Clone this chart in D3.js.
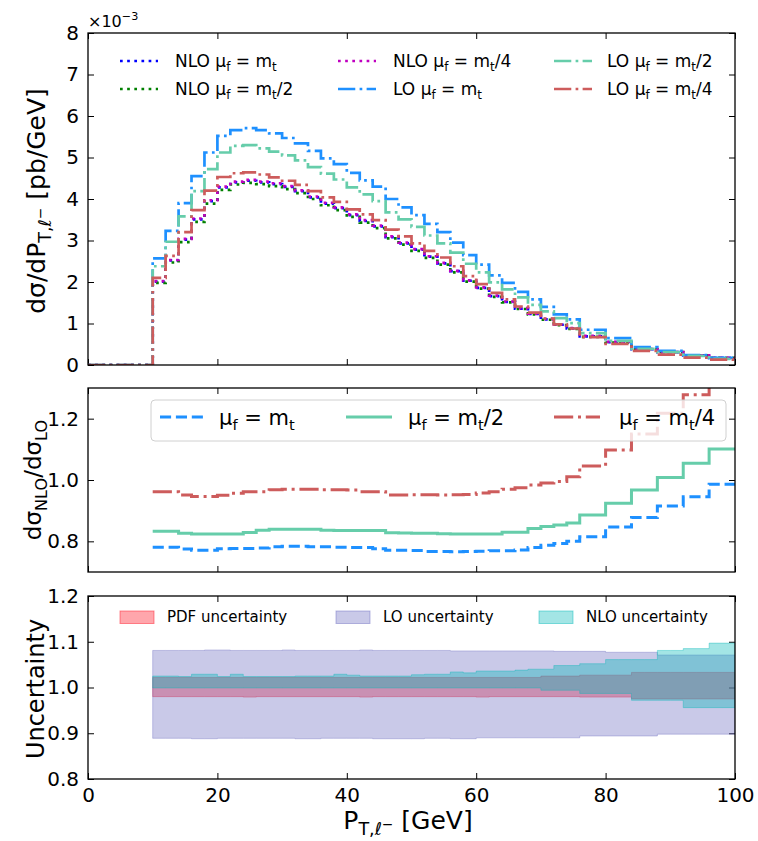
<!DOCTYPE html>
<html>
<head>
<meta charset="utf-8">
<script src="https://cdn.jsdelivr.net/npm/d3@7"></script>
<style>
body { margin: 0; background: #fff; }
text { font-family: "DejaVu Sans", sans-serif; white-space: pre; }
</style>
</head>
<body>
<svg id="chart"></svg>
<script>
const width = 758;
const height = 841;

// bin edges in GeV (2 GeV bins from 10 to 100)
const binEdges = d3.range(10, 101, 2);

// top panel, dsigma/dPT in units of 1e-3 pb/GeV
const nloMt  = [2.01, 2.52, 3.02, 3.51, 3.95, 4.28, 4.40, 4.44, 4.40, 4.36,
                4.29, 4.19, 4.04, 3.89, 3.78, 3.61, 3.47, 3.34, 3.08, 2.93,
                2.78, 2.61, 2.45, 2.26, 2.03, 1.86, 1.66, 1.52, 1.36, 1.23,
                1.10, 0.97, 0.88, 0.69, 0.69, 0.55, 0.55, 0.38, 0.38, 0.31,
                0.31, 0.23, 0.23, 0.17, 0.17];
const nloMt2 = [1.98, 2.47, 2.96, 3.45, 3.89, 4.22, 4.35, 4.39, 4.36, 4.31,
                4.24, 4.14, 4.00, 3.85, 3.73, 3.57, 3.43, 3.30, 3.05, 2.90,
                2.75, 2.58, 2.42, 2.23, 2.01, 1.84, 1.64, 1.51, 1.35, 1.22,
                1.09, 0.96, 0.87, 0.68, 0.68, 0.54, 0.54, 0.38, 0.38, 0.31,
                0.31, 0.23, 0.23, 0.17, 0.17];
const nloMt4 = [2.02, 2.53, 3.04, 3.53, 3.97, 4.30, 4.42, 4.46, 4.42, 4.38,
                4.31, 4.21, 4.06, 3.91, 3.80, 3.63, 3.49, 3.36, 3.10, 2.95,
                2.79, 2.62, 2.46, 2.27, 2.04, 1.87, 1.67, 1.53, 1.37, 1.24,
                1.11, 0.98, 0.89, 0.70, 0.70, 0.56, 0.56, 0.39, 0.39, 0.31,
                0.31, 0.23, 0.23, 0.17, 0.17];
const loMt   = [2.57, 3.23, 3.90, 4.55, 5.12, 5.52, 5.66, 5.71, 5.66, 5.58,
                5.47, 5.34, 5.16, 4.98, 4.84, 4.63, 4.45, 4.30, 4.00, 3.80,
                3.61, 3.40, 3.20, 2.95, 2.65, 2.42, 2.16, 1.98, 1.76, 1.58,
                1.40, 1.22, 1.10, 0.85, 0.85, 0.65, 0.65, 0.43, 0.43, 0.34,
                0.34, 0.24, 0.24, 0.17, 0.17];
const loMt2  = [2.38, 2.97, 3.58, 4.19, 4.72, 5.12, 5.28, 5.30, 5.22, 5.14,
                5.05, 4.93, 4.77, 4.61, 4.47, 4.28, 4.11, 3.95, 3.68, 3.51,
                3.33, 3.12, 2.93, 2.71, 2.44, 2.23, 1.99, 1.82, 1.63, 1.45,
                1.29, 1.13, 1.01, 0.77, 0.77, 0.58, 0.58, 0.39, 0.39, 0.31,
                0.31, 0.22, 0.22, 0.15, 0.15];
const loMt4  = [2.10, 2.63, 3.20, 3.73, 4.20, 4.53, 4.62, 4.64, 4.59, 4.52,
                4.44, 4.34, 4.19, 4.04, 3.93, 3.75, 3.63, 3.49, 3.26, 3.10,
                2.93, 2.75, 2.59, 2.38, 2.14, 1.95, 1.74, 1.58, 1.41, 1.26,
                1.12, 0.98, 0.88, 0.67, 0.67, 0.51, 0.51, 0.34, 0.34, 0.25,
                0.25, 0.18, 0.18, 0.13, 0.13];

// middle panel, NLO/LO ratio
const ratioMt  = [0.781, 0.781, 0.775, 0.771, 0.771, 0.776, 0.777, 0.777, 0.778, 0.782,
                  0.784, 0.784, 0.782, 0.782, 0.781, 0.780, 0.780, 0.776, 0.771, 0.771,
                  0.770, 0.767, 0.767, 0.766, 0.767, 0.768, 0.769, 0.769, 0.772, 0.780,
                  0.787, 0.793, 0.800, 0.815, 0.815, 0.847, 0.847, 0.878, 0.878, 0.915,
                  0.915, 0.945, 0.945, 0.986, 0.986];
const ratioMt2 = [0.833, 0.833, 0.826, 0.824, 0.824, 0.824, 0.824, 0.829, 0.836, 0.839,
                  0.839, 0.839, 0.839, 0.836, 0.835, 0.835, 0.835, 0.835, 0.828, 0.827,
                  0.826, 0.826, 0.825, 0.824, 0.824, 0.824, 0.824, 0.830, 0.830, 0.842,
                  0.848, 0.853, 0.860, 0.886, 0.886, 0.924, 0.924, 0.967, 0.967, 1.008,
                  1.008, 1.055, 1.055, 1.101, 1.101];
const ratioMt4 = [0.962, 0.962, 0.951, 0.946, 0.946, 0.950, 0.957, 0.962, 0.962, 0.968,
                  0.970, 0.970, 0.970, 0.968, 0.968, 0.967, 0.962, 0.962, 0.951, 0.951,
                  0.952, 0.952, 0.951, 0.952, 0.953, 0.958, 0.962, 0.970, 0.975, 0.984,
                  0.990, 0.995, 1.011, 1.046, 1.046, 1.098, 1.098, 1.150, 1.150, 1.218,
                  1.218, 1.278, 1.278, 1.360, 1.360];

// bottom panel, uncertainty bands (upper / lower)
const pdfUp = [1.022, 1.022, 1.022, 1.022, 1.022, 1.022, 1.022, 1.022, 1.022, 1.022,
               1.022, 1.022, 1.022, 1.022, 1.022, 1.022, 1.022, 1.022, 1.022, 1.022,
               1.022, 1.022, 1.022, 1.022, 1.022, 1.022, 1.022, 1.022, 1.022, 1.022,
               1.025, 1.025, 1.025, 1.027, 1.027, 1.027, 1.027, 1.033, 1.033, 1.033,
               1.033, 1.033, 1.033, 1.033, 1.033];
const pdfDn = [0.980, 0.980, 0.980, 0.980, 0.980, 0.980, 0.980, 0.979, 0.980, 0.980,
               0.980, 0.980, 0.980, 0.980, 0.980, 0.980, 0.979, 0.980, 0.980, 0.980,
               0.980, 0.980, 0.980, 0.980, 0.980, 0.979, 0.980, 0.980, 0.980, 0.980,
               0.980, 0.980, 0.980, 0.979, 0.979, 0.979, 0.979, 0.975, 0.975, 0.975,
               0.975, 0.975, 0.975, 0.975, 0.975];
const loUp  = [1.081, 1.081, 1.081, 1.081, 1.082, 1.082, 1.081, 1.081, 1.081, 1.081,
               1.082, 1.081, 1.081, 1.081, 1.081, 1.081, 1.082, 1.081, 1.081, 1.081,
               1.081, 1.081, 1.081, 1.080, 1.080, 1.080, 1.080, 1.080, 1.080, 1.080,
               1.080, 1.079, 1.079, 1.079, 1.079, 1.077, 1.077, 1.077, 1.077, 1.071,
               1.071, 1.071, 1.071, 1.071, 1.071];
const loDn  = [0.889, 0.889, 0.889, 0.888, 0.888, 0.889, 0.889, 0.889, 0.889, 0.889,
               0.889, 0.888, 0.888, 0.889, 0.889, 0.889, 0.889, 0.888, 0.888, 0.888,
               0.888, 0.889, 0.889, 0.888, 0.888, 0.890, 0.890, 0.890, 0.890, 0.890,
               0.890, 0.890, 0.890, 0.894, 0.894, 0.894, 0.894, 0.894, 0.894, 0.898,
               0.898, 0.898, 0.898, 0.898, 0.898];
const nloUp = [1.025, 1.025, 1.024, 1.029, 1.029, 1.024, 1.029, 1.024, 1.024, 1.024,
               1.024, 1.025, 1.025, 1.025, 1.029, 1.027, 1.025, 1.025, 1.025, 1.025,
               1.028, 1.029, 1.029, 1.034, 1.032, 1.036, 1.036, 1.036, 1.038, 1.040,
               1.040, 1.048, 1.048, 1.052, 1.052, 1.061, 1.061, 1.061, 1.061, 1.081,
               1.081, 1.085, 1.085, 1.097, 1.097];
const nloDn = [0.999, 0.999, 0.999, 0.999, 0.999, 0.999, 0.999, 0.999, 0.999, 0.999,
               0.999, 0.999, 0.999, 0.999, 0.999, 0.999, 0.999, 0.999, 0.999, 0.999,
               0.999, 0.999, 0.999, 0.999, 0.999, 0.999, 0.999, 0.999, 0.999, 0.999,
               0.994, 0.994, 0.994, 0.987, 0.987, 0.987, 0.987, 0.972, 0.972, 0.972,
               0.972, 0.956, 0.956, 0.956, 0.956];

const xTicks = [0, 20, 40, 60, 80, 100];
const y1Ticks = [0, 1, 2, 3, 4, 5, 6, 7, 8];
const y2Ticks = [0.8, 1.0, 1.2];
const y3Ticks = [0.8, 0.9, 1.0, 1.1, 1.2];

const svg = d3.select("#chart").attr("width", width).attr("height", height);

const left = 88, right = 735;
const x = d3.scaleLinear().domain([0, 100]).range([left, right]);
const y1 = d3.scaleLinear().domain([0, 8]).range([365, 33]);
const y2 = d3.scaleLinear().domain([0.7, 1.3]).range([572, 388]);
const y3 = d3.scaleLinear().domain([0.8, 1.2]).range([779, 596]);

// text with sub/superscripts: parts are strings or [string, "sub"|"sup"|"ss"]
function richText(g, px, py, parts, size, anchor, rotate) {
    const t = g.append("text")
        .attr("font-size", size)
        .attr("text-anchor", anchor || "start")
        .attr("fill", "#000");
    if (rotate) t.attr("transform", `translate(${px},${py}) rotate(-90)`);
    else t.attr("x", px).attr("y", py);
    let shift = 0;
    parts.forEach(p => {
        const str = typeof p === "string" ? p : p[0];
        const mode = typeof p === "string" ? null : p[1];
        let target = 0, fs = size;
        if (mode === "sub") { target = 0.24 * size; fs = 0.7 * size; }
        if (mode === "sup") { target = -0.42 * size; fs = 0.7 * size; }
        if (mode === "ss")  { target = -0.02 * size; fs = 0.55 * size; }
        t.append("tspan").attr("dy", target - shift).attr("font-size", fs).text(str);
        shift = target;
    });
    return t;
}

function panel(yScale, yTickVals, yFmt, showX) {
    const [y0, yTop] = yScale.range();
    const g = svg.append("g");
    const ax = (gen, tr) => {
        const a = g.append("g").attr("transform", tr).call(gen);
        a.select(".domain").remove();
        a.selectAll("line").attr("stroke", "#000").attr("stroke-width", 1);
        a.selectAll("text").attr("font-family", "DejaVu Sans").attr("font-size", 20).attr("fill", "#000");
        return a;
    };
    ax(d3.axisBottom(x).tickValues(xTicks).tickSize(-6).tickSizeOuter(0).tickPadding(9)
        .tickFormat(showX ? d3.format("d") : ""), `translate(0,${y0})`);
    ax(d3.axisTop(x).tickValues(xTicks).tickSize(-6).tickSizeOuter(0).tickFormat(""), `translate(0,${yTop})`);
    ax(d3.axisLeft(yScale).tickValues(yTickVals).tickSize(-6).tickSizeOuter(0).tickPadding(9)
        .tickFormat(yFmt), `translate(${left},0)`);
    ax(d3.axisRight(yScale).tickValues(yTickVals).tickSize(-6).tickSizeOuter(0).tickFormat(""), `translate(${right},0)`);
    return g;
}

function clipFor(id, yScale) {
    const [y0, yTop] = yScale.range();
    svg.append("clipPath").attr("id", id).append("rect")
        .attr("x", left).attr("y", yTop).attr("width", right - left).attr("height", y0 - yTop);
    return svg.append("g").attr("clip-path", `url(#${id})`);
}

function frame(yScale) {
    const [y0, yTop] = yScale.range();
    svg.append("rect").attr("x", left).attr("y", yTop).attr("width", right - left).attr("height", y0 - yTop)
        .attr("fill", "none").attr("stroke", "#000").attr("stroke-width", 1.3);
}

const binPoints = (vals, fromZero) => {
    const pts = binEdges.slice(0, -1).map((e, i) => [e, vals[i]]);
    pts.push([binEdges[binEdges.length - 1], vals[vals.length - 1]]);
    if (fromZero) pts.unshift([0, 0]);
    return pts;
};

// ---------- top panel ----------
const lw = 2.7;
const dotted = `${lw} ${1.65 * lw}`;
const dashdot = `${6.4 * lw} ${1.6 * lw} ${lw} ${1.6 * lw}`;
const topSeries = [
    { vals: nloMt,  color: "#0000ff", dash: dotted,  lab: ["NLO μ", ["f", "sub"], " = m", ["t", "sub"]] },
    { vals: nloMt2, color: "#008000", dash: dotted,  lab: ["NLO μ", ["f", "sub"], " = m", ["t", "sub"], "/2"] },
    { vals: nloMt4, color: "#c000c0", dash: dotted,  lab: ["NLO μ", ["f", "sub"], " = m", ["t", "sub"], "/4"] },
    { vals: loMt,   color: "#1e90ff", dash: dashdot, lab: ["LO μ", ["f", "sub"], " = m", ["t", "sub"]] },
    { vals: loMt2,  color: "#66cdaa", dash: dashdot, lab: ["LO μ", ["f", "sub"], " = m", ["t", "sub"], "/2"] },
    { vals: loMt4,  color: "#cd5c5c", dash: dashdot, lab: ["LO μ", ["f", "sub"], " = m", ["t", "sub"], "/4"] }
];

panel(y1, y1Ticks, d3.format("d"), false);
const g1 = clipFor("c1", y1);
const line1 = d3.line().x(d => x(d[0])).y(d => y1(d[1])).curve(d3.curveStepAfter);
topSeries.forEach(s => {
    g1.append("path").attr("d", line1(binPoints(s.vals, true)))
        .attr("fill", "none").attr("stroke", s.color).attr("stroke-width", lw)
        .attr("stroke-dasharray", s.dash);
});
frame(y1);

// legend, 3 columns x 2 rows, column-major
const legHx = [120, 338, 554], legTx = [175, 393, 607], legRy = [61, 89];
topSeries.forEach((s, i) => {
    const c = Math.floor(i / 2), r = i % 2;
    svg.append("line").attr("x1", legHx[c]).attr("x2", legHx[c] + 38)
        .attr("y1", legRy[r]).attr("y2", legRy[r])
        .attr("stroke", s.color).attr("stroke-width", lw).attr("stroke-dasharray", s.dash);
    richText(svg, legTx[c], legRy[r] + 6, s.lab, 17);
});
richText(svg, left, 27, ["×10", ["−3", "sup"]], 16);

// ---------- middle panel ----------
const lw2 = 3;
const midSeries = [
    { vals: ratioMt,  color: "#1e90ff", dash: `${3.7 * lw2} ${1.6 * lw2}`, lab: ["μ", ["f", "sub"], " = m", ["t", "sub"]] },
    { vals: ratioMt2, color: "#66cdaa", dash: null, lab: ["μ", ["f", "sub"], " = m", ["t", "sub"], "/2"] },
    { vals: ratioMt4, color: "#cd5c5c", dash: `${6.4 * lw2} ${1.6 * lw2} ${lw2} ${1.6 * lw2}`, lab: ["μ", ["f", "sub"], " = m", ["t", "sub"], "/4"] }
];
panel(y2, y2Ticks, d3.format(".1f"), false);
const g2 = clipFor("c2", y2);
const line2 = d3.line().x(d => x(d[0])).y(d => y2(d[1])).curve(d3.curveStepAfter);
midSeries.forEach(s => {
    g2.append("path").attr("d", line2(binPoints(s.vals, false)))
        .attr("fill", "none").attr("stroke", s.color).attr("stroke-width", lw2)
        .attr("stroke-dasharray", s.dash);
});
frame(y2);

svg.append("rect").attr("x", 151).attr("y", 400).attr("width", 575).attr("height", 41)
    .attr("rx", 4).attr("fill", "#fff").attr("fill-opacity", 0.8)
    .attr("stroke", "#d0d0d0").attr("stroke-width", 1);
const mHx = [160, 346, 554], mTx = [219, 408, 619];
midSeries.forEach((s, i) => {
    svg.append("line").attr("x1", mHx[i]).attr("x2", mHx[i] + 46).attr("y1", 417).attr("y2", 417)
        .attr("stroke", s.color).attr("stroke-width", lw2).attr("stroke-dasharray", s.dash);
    richText(svg, mTx[i], 425, s.lab, 21);
});

// ---------- bottom panel ----------
const bands = [
    { up: pdfUp, dn: pdfDn, color: "#ff2030", op: 0.40, lab: "PDF uncertainty" },
    { up: loUp,  dn: loDn,  color: "#6a6ac0", op: 0.36, lab: "LO uncertainty" },
    { up: nloUp, dn: nloDn, color: "#00b8b8", op: 0.36, lab: "NLO uncertainty" }
];
panel(y3, y3Ticks, d3.format(".1f"), true);
const g3 = clipFor("c3", y3);
const area3 = d3.area().x(d => x(d[0])).y0(d => y3(d[1])).y1(d => y3(d[2])).curve(d3.curveStepAfter);
bands.forEach(b => {
    const pts = binPoints(b.dn, false).map((p, i) => [p[0], p[1], i < b.up.length ? b.up[i] : b.up[b.up.length - 1]]);
    g3.append("path").attr("d", area3(pts))
        .attr("fill", b.color).attr("fill-opacity", b.op)
        .attr("stroke", b.color).attr("stroke-opacity", b.op).attr("stroke-width", 1);
});
frame(y3);

const bPx = [120, 336, 539], bTx = [167, 383, 586];
bands.forEach((b, i) => {
    svg.append("rect").attr("x", bPx[i]).attr("y", 611).attr("width", 34).attr("height", 12.5)
        .attr("fill", b.color).attr("fill-opacity", b.op)
        .attr("stroke", b.color).attr("stroke-opacity", b.op + 0.1);
    richText(svg, bTx[i], 622, [b.lab], 15);
});

// ---------- axis titles ----------
richText(svg, 45, 201, ["dσ/dP", ["T,ℓ", "sub"], ["−", "ss"], " [pb/GeV]"], 25, "middle", true);
richText(svg, 41, 480, ["dσ", ["NLO", "sub"], "/dσ", ["LO", "sub"]], 23, "middle", true);
richText(svg, 44, 689, ["Uncertainty"], 24, "middle", true);
richText(svg, 408, 829, ["P", ["T,ℓ", "sub"], ["−", "ss"], " [GeV]"], 25, "middle", false);
</script>
</body>
</html>
